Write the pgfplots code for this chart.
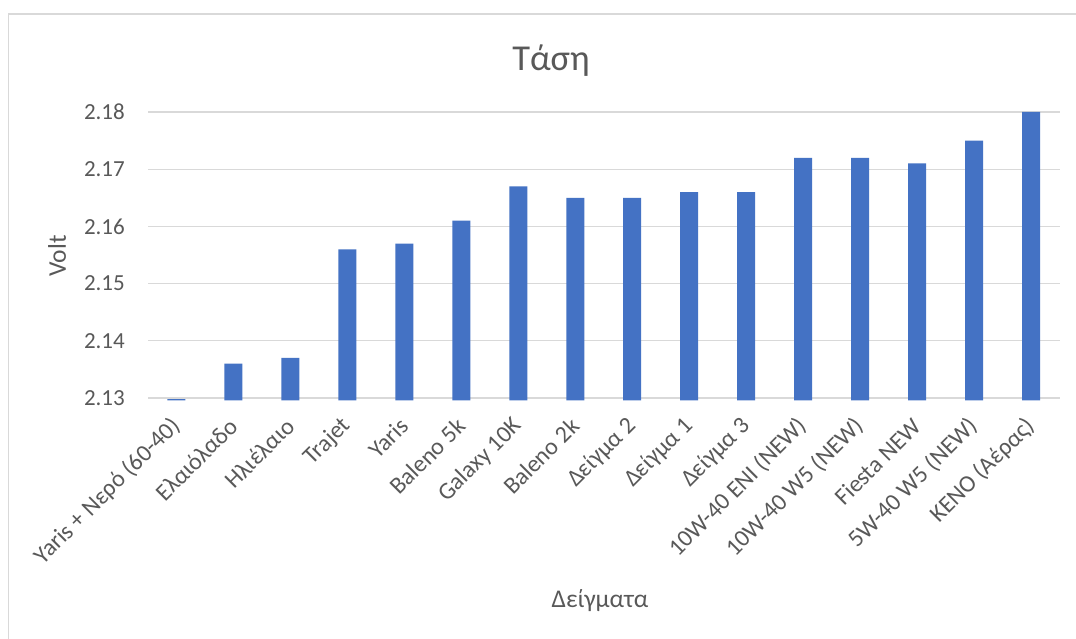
\documentclass[border=0pt]{standalone}
\usepackage{pgfplots}
\pgfplotsset{compat=1.18}
\usepackage{fontspec}
\setmainfont{Carlito}
\definecolor{barblue}{HTML}{4472C4}
\definecolor{txtgray}{HTML}{595959}
\definecolor{gridgray}{HTML}{D9D9D9}
\begin{document}
\begin{tikzpicture}
\path[use as bounding box, fill=white] (0bp,0bp) rectangle (1076bp,639bp);
\draw[gridgray, line width=1.3bp] (8.5bp,0bp) -- (8.5bp,625bp) -- (1076bp,625bp);
\begin{axis}[
  at={(148bp,238.7bp)}, anchor=south west,
  scale only axis, width=911.5bp, height=288.3bp,
  xmin=-0.5, xmax=15.5, ymin=2.1296, ymax=2.18,
  ybar, bar width=18bp,
  axis line style={draw=none},
  major tick length=0pt,
  ymajorgrids, grid style={gridgray, line width=1.3bp},
  ytick={2.13,2.14,2.15,2.16,2.17,2.18},
  yticklabels={2.13,2.14,2.15,2.16,2.17,2.18},
  xtick={0,1,2,3,4,5,6,7,8,9,10,11,12,13,14,15},
  xticklabels={{Yaris + Νερό (60-40)},{Ελαιόλαδο},{Ηλιέλαιο},{Trajet},{Yaris},{Baleno 5k},{Galaxy 10K},{Baleno 2k},{Δείγμα 2},{Δείγμα 1},{Δείγμα 3},{10W-40 ENI (NEW)},{10W-40 W5 (NEW)},{Fiesta NEW},{5W-40 W5 (NEW)},{KENO (Αέρας)}},
  tick label style={font=\fontsize{23bp}{27bp}\selectfont, text=txtgray, inner sep=0pt},
  yticklabel style={anchor=east, xshift=-23bp},
  xticklabel style={rotate=45, anchor=east, font=\fontsize{24bp}{28bp}\selectfont},
  xticklabel shift=22bp,
  clip=true,
]
\addplot[fill=barblue, draw=none] coordinates {
(0,2.1298) (1,2.136) (2,2.137) (3,2.156) (4,2.157) (5,2.161) (6,2.167) (7,2.165)
(8,2.165) (9,2.166) (10,2.166) (11,2.172) (12,2.172) (13,2.171) (14,2.175) (15,2.180)};
\end{axis}
\node[anchor=base, text=txtgray, font=\fontsize{36.5bp}{40bp}\selectfont] at (551bp,568bp) {Τάση};
\node[rotate=90, text=txtgray, font=\fontsize{25.5bp}{30bp}\selectfont] at (57bp,383bp) {Volt};
\node[anchor=base, text=txtgray, font=\fontsize{25.5bp}{30bp}\selectfont] at (600bp,32bp) {Δείγματα};
\end{tikzpicture}
\end{document}
